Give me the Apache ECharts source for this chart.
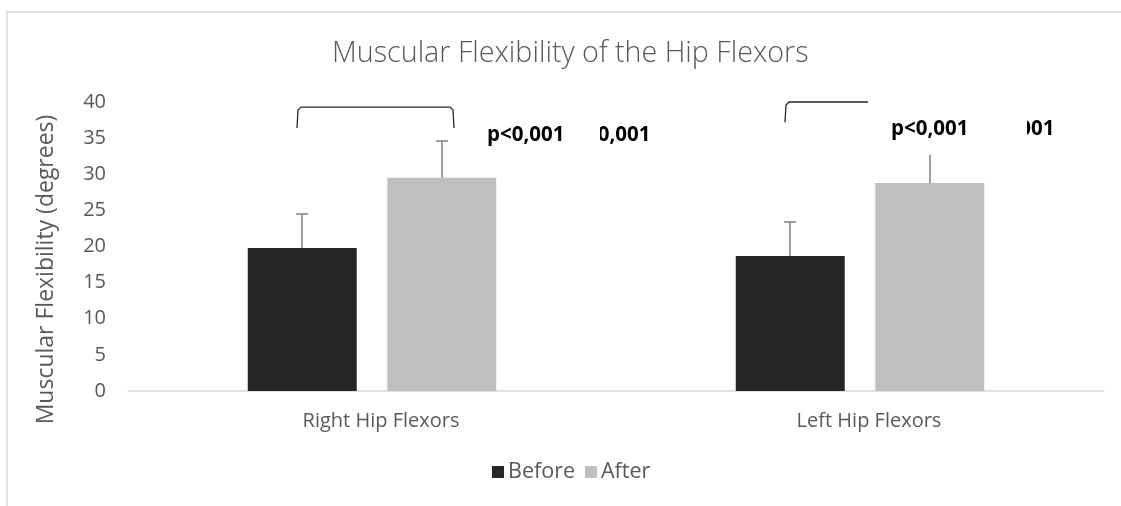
<!DOCTYPE html>
<html>
<head>
<meta charset="utf-8">
<script src="https://cdn.jsdelivr.net/npm/echarts@6/dist/echarts.min.js"></script>
<style>
  html, body { margin: 0; padding: 0; background: #fff; }
  #main { width: 1121px; height: 506px; }
</style>
</head>
<body>
<div id="main"></div>
<script>
  // data
  const categories = ['Right Hip Flexors', 'Left Hip Flexors'];
  const seriesNames = ['Before', 'After'];
  const beforeValues = [19.8, 18.7];
  const afterValues = [29.5, 28.8];
  const beforeErr = [4.7, 4.7];
  const afterErr = [5.1, 5.0];
  const yTicks = [0, 5, 10, 15, 20, 25, 30, 35, 40];
  // brackets: [category, top value, leg end value]
  const brackets = [[0, 39.3, 36.4], [1, 40.0, 37.2]];
  // p value labels: [category, value at text middle]
  const pLabels = [[0, 35.4], [1, 36.3]];
  const pText = 'p<0,001';

  const font = '"Open Sans", sans-serif';
  const textGrey = '#595959';
  const chart = echarts.init(document.getElementById('main'));

  // bar centres sit 70px each side of the category centre
  const barShift = 70;

  function errorItem(sign) {
    return function (params, api) {
      const i = api.value(0);
      const base = api.coord([i, api.value(1)]);
      const top = api.coord([i, api.value(1) + api.value(2)]);
      const x = base[0] + sign * barShift;
      const st = { stroke: '#7f7f7f', lineWidth: 1.5 };
      return {
        type: 'group',
        children: [
          { type: 'line', shape: { x1: x, y1: base[1], x2: x, y2: top[1] }, style: st },
          { type: 'line', shape: { x1: x - 6, y1: top[1], x2: x + 6, y2: top[1] }, style: st }
        ]
      };
    };
  }

  const option = {
    backgroundColor: '#fff',
    animation: false,
    title: {
      text: 'Muscular Flexibility of the Hip Flexors',
      left: 327,
      top: 34,
      textStyle: { fontFamily: font, fontWeight: 300, fontSize: 28.7, color: textGrey }
    },
    legend: {
      data: seriesNames,
      bottom: 18,
      left: 487,
      icon: 'rect',
      itemWidth: 12,
      itemHeight: 12,
      itemGap: 10,
      textStyle: { fontFamily: font, fontSize: 21.5, color: textGrey, padding: [0, 0, 0, -1] }
    },
    graphic: [{
      type: 'rect',
      shape: { x: 7, y: 12, width: 1200, height: 600 },
      style: { fill: 'none', stroke: '#d9d9d9', lineWidth: 1.5 },
      silent: true,
      z: -10
    }],
    grid: { left: 128, right: 17, top: 102, bottom: 115 },
    xAxis: {
      type: 'category',
      data: categories,
      axisLine: { lineStyle: { color: '#d9d9d9', width: 1.5 } },
      axisTick: { show: false },
      axisLabel: { fontFamily: font, fontSize: 20, color: textGrey, margin: 20, padding: [0, 0, 0, 18] }
    },
    yAxis: {
      type: 'value',
      min: yTicks[0],
      max: yTicks[yTicks.length - 1],
      interval: 5,
      name: 'Muscular Flexibility (degrees)',
      nameLocation: 'middle',
      nameGap: 70,
      nameTextStyle: { fontFamily: font, fontSize: 23, color: textGrey, padding: [0, 46, 0, 0] },
      splitLine: { show: false },
      axisLine: { show: false },
      axisTick: { show: false },
      axisLabel: { fontFamily: font, fontSize: 20, color: textGrey, margin: 22 }
    },
    series: [
      {
        name: seriesNames[0],
        type: 'bar',
        data: beforeValues,
        barWidth: 109,
        barGap: '28%',
        itemStyle: { color: '#262626' }
      },
      {
        name: seriesNames[1],
        type: 'bar',
        data: afterValues,
        barWidth: 109,
        barGap: '28%',
        itemStyle: { color: '#bfbfbf' }
      },
      {
        type: 'custom',
        name: 'errBefore',
        renderItem: errorItem(-1),
        data: beforeValues.map((v, i) => [i, v, beforeErr[i]]),
        z: 3
      },
      {
        type: 'custom',
        name: 'errAfter',
        renderItem: errorItem(1),
        data: afterValues.map((v, i) => [i, v, afterErr[i]]),
        z: 3
      },
      {
        type: 'custom',
        name: 'brackets',
        renderItem: function (params, api) {
          const i = api.value(0);
          const top = api.coord([i, api.value(1)]);
          const leg = api.coord([i, api.value(2)]);
          const x1 = top[0] - barShift - 5;
          const x2 = top[0] + barShift + 12;
          return {
            type: 'polyline',
            shape: { points: [[x1, leg[1]], [x1 + 1, top[1] + 3], [x1 + 4, top[1]], [x2 - 4, top[1]], [x2 - 1, top[1] + 3], [x2, leg[1]]] },
            style: { stroke: '#262626', lineWidth: 1.3, fill: 'none' }
          };
        },
        data: brackets,
        z: 4
      },
      {
        type: 'custom',
        name: 'pvalues',
        renderItem: function (params, api) {
          const i = api.value(0);
          const p = api.coord([i, api.value(1)]);
          // per-label layout: [box left, box right, text left, hidden text left, box top, box bottom]
          const lay = i === 0 ? [98, 228, 115, 201, -20, 20] : [8, 167, 31, 117, -35, 26];
          const ts = { font: 'bold 20.5px "Open Sans", sans-serif', fill: '#000', textVerticalAlign: 'middle', verticalAlign: 'middle' };
          return {
            type: 'group',
            children: [
              { type: 'text', z2: 1, style: Object.assign({ text: pText, x: p[0] + lay[3], y: p[1] }, ts) },
              { type: 'rect', z2: 2, shape: { x: p[0] + lay[0], y: p[1] + lay[4], width: lay[1] - lay[0], height: lay[5] - lay[4] }, style: { fill: '#fff' } },
              { type: 'text', z2: 3, style: Object.assign({ text: pText, x: p[0] + lay[2], y: p[1] }, ts) }
            ]
          };
        },
        data: pLabels,
        z: 5
      }
    ]
  };
  chart.setOption(option);
</script>
</body>
</html>
